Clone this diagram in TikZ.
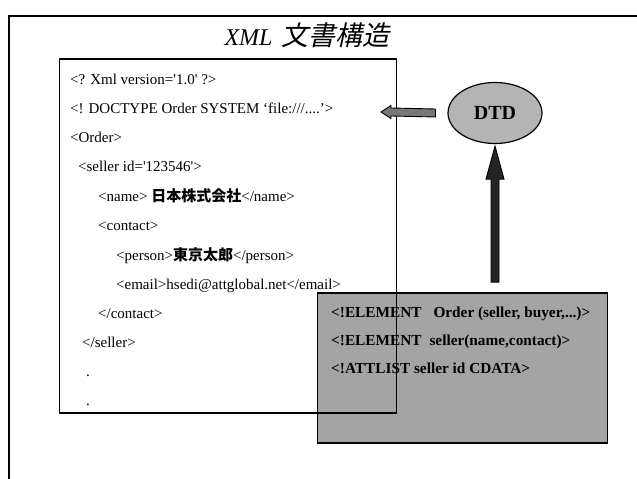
\documentclass[tikz,border=0pt]{standalone}
\usepackage{fontspec}
\setmainfont{Liberation Serif}
\newfontfamily\cjk{Noto Sans CJK JP}
\newfontfamily\cjktitle[FakeSlant=0.22]{Noto Sans CJK JP}
\usetikzlibrary{shapes.geometric,calc}
\definecolor{dtdgray}{HTML}{B4B4B4}
\definecolor{boxgray}{HTML}{A4A4A4}
\definecolor{arrowdark}{HTML}{242424}
\definecolor{arrowgray}{HTML}{787878}

\begin{document}
\begin{tikzpicture}[x=1bp,y=-1bp,
  frameline/.style={line width=1.1bp},
  boxline/.style={line width=1.5bp},
  code/.style={anchor=base west, inner sep=0pt, font=\fontsize{15bp}{18bp}\selectfont},
  dtdcode/.style={anchor=base west, inner sep=0pt, font=\fontsize{15.3bp}{18bp}\selectfont\bfseries},
  blockarrow/.style={draw, line width=0.9bp, line join=miter}
]
\useasboundingbox (0,0) rectangle (637,479);

% outer frame: left and top edges only
\draw[frameline] (637,16) -- (9,16) -- (9,479);

% title
\node[inner sep=0pt] (title) at (307,35)
  {\fontsize{24bp}{28bp}\selectfont\itshape XML\hspace{9bp}\cjktitle\fontsize{27bp}{29bp}\selectfont 文書構造};

% XML document box (white)
\node[fill=white, inner sep=0pt, minimum width=337bp, minimum height=354bp] (doc) at (228,236) {};

\node[code] (l0)  at (70,85)  {<? Xml version=\textquotesingle 1.0\textquotesingle\ ?>};
\node[code] (l1)  at (70,114) {<! DOCTYPE Order SYSTEM ‘file:///....’>};
\node[code] (l2)  at (70,143) {<Order>};
\node[code] (l3)  at (78,172) {<seller id=\textquotesingle 123546\textquotesingle>};
\node[code] (l4)  at (98,202) {<name> {\cjk\bfseries 日本株式会社}</name>};
\node[code] (l5)  at (98,231) {<contact>};
\node[code] (l6)  at (116,260) {<person>{\cjk\bfseries 東京太郎}</person>};
\node[code] (l7)  at (116,289) {<email>hsedi@attglobal.net</email>};
\node[code] (l8)  at (98,318) {</contact>};
\node[code] (l9)  at (82,347) {</seller>};
\node[code] (l10) at (86,376) {.};
\node[code] (l11) at (86,405) {.};

% DTD declarations box (grey)
\node[draw, boxline, fill=boxgray, inner sep=0pt, minimum width=290bp, minimum height=150bp] (decl) at (462.5,368) {};
\node[dtdcode] (d0) at (331,317) {<!ELEMENT\hspace{12bp}Order (seller, buyer,...)>};
\node[dtdcode] (d1) at (331,345) {<!ELEMENT\hspace{8bp}seller(name,contact)>};
\node[dtdcode] (d2) at (331,373) {<!ATTLIST seller id CDATA>};

% border of the document box lies over the grey box
\draw[boxline] (doc.north west) rectangle (doc.south east);

% DTD ellipse
\node[ellipse, draw, line width=1.2bp, fill=dtdgray, minimum width=94bp, minimum height=61bp, inner sep=0pt,
      font=\fontsize{20bp}{22bp}\selectfont\bfseries] (dtd) at (495,113) {DTD};

% left block arrow: DTD -> DOCTYPE line
\coordinate (la-tail) at ([xshift=-12bp]dtd.west);
\coordinate (la-tip) at (381,112);
\draw[blockarrow, fill=arrowgray]
  (la-tip) -- ([shift={(10,-6.5)}]la-tip) -- ([shift={(10,-4)}]la-tip)
  -- ([shift={(0,-4)}]la-tail) -- ([shift={(0,4)}]la-tail)
  -- ([shift={(10,4)}]la-tip) -- ([shift={(10,6.5)}]la-tip) -- cycle;

% up block arrow: declarations -> DTD
\coordinate (ua-base) at ([yshift=10bp]decl.north -| dtd.south);
\coordinate (ua-tip) at ([yshift=-2bp]dtd.south);
\draw[blockarrow, fill=arrowdark]
  (ua-tip) -- ([shift={(-9,33)}]ua-tip) -- ([shift={(-4,33)}]ua-tip)
  -- ([shift={(-4,0)}]ua-base) -- ([shift={(4,0)}]ua-base)
  -- ([shift={(4,33)}]ua-tip) -- ([shift={(9,33)}]ua-tip) -- cycle;
\end{tikzpicture}
\end{document}
